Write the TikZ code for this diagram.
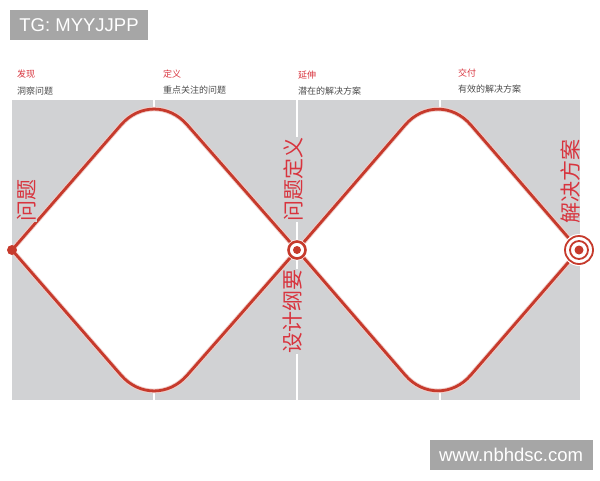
\documentclass[tikz,border=0pt]{standalone}
\usepackage{fontspec}
\setmainfont{Liberation Sans}
\newfontfamily\cjk{Noto Sans CJK SC}
\definecolor{panelgray}{HTML}{D1D2D4}
\definecolor{linered}{HTML}{C63A2C}
\definecolor{textred}{HTML}{D8343E}
\definecolor{taggray}{HTML}{A6A6A6}

\begin{document}
\begin{tikzpicture}[x=1pt, y=-1pt,
  stage/.style={anchor=west, inner sep=0pt, text=textred, font=\cjk\fontsize{9}{9}\selectfont},
  task/.style={anchor=west, inner sep=0pt, text=black!70, font=\cjk\fontsize{9}{9}\selectfont},
  bigword/.style={rotate=90, inner sep=0.5pt, fill=panelgray, text=textred, font=\cjk\fontsize{21}{21}\selectfont},
  tagbox/.style={fill=taggray, text=white, inner sep=0pt, minimum height=30pt, font=\fontsize{18.5}{18.5}\selectfont},
  redline/.style={draw=linered, line width=2.8pt, line cap=round, line join=round, rounded corners=50pt},
  glowline/.style={draw=linered!25, line width=4.6pt, line cap=round, line join=round, rounded corners=50pt},
  whitehalf/.style={fill=white, rounded corners=50pt}]

\useasboundingbox (0, 0) rectangle (600, 480);

\coordinate (start) at (12, 250);
\coordinate (top1) at (154, 87);
\coordinate (brief) at (297, 250);
\coordinate (bot1) at (154, 413);
\coordinate (top2) at (438, 87);
\coordinate (goal) at (579, 250);
\coordinate (bot2) at (438, 413);

\fill[panelgray] (12, 100) rectangle (580, 400);

\draw[white, line width=2pt] (154, 100) -- (154, 400);

\draw[white, line width=2pt] (297, 100) -- (297, 400);

\draw[white, line width=2pt] (440, 100) -- (440, 400);

\path[whitehalf] (start) -- (top1) -- (brief);
\path[whitehalf] (start) -- (bot1) -- (brief);
\fill[white] (start) -- (154, 240) -- (brief) -- (154, 260) -- cycle;

\path[whitehalf] (brief) -- (top2) -- (goal);
\path[whitehalf] (brief) -- (bot2) -- (goal);
\fill[white] (brief) -- (438, 240) -- (goal) -- (438, 260) -- cycle;

\draw[glowline] (start) -- (top1) -- (brief);
\draw[glowline] (start) -- (bot1) -- (brief);
\draw[glowline] (brief) -- (top2) -- (goal);
\draw[glowline] (brief) -- (bot2) -- (goal);

\draw[redline] (start) -- (top1) -- (brief);
\draw[redline] (start) -- (bot1) -- (brief);

\draw[redline] (brief) -- (top2) -- (goal);
\draw[redline] (brief) -- (bot2) -- (goal);

\fill[linered] (start) circle (5pt);

\fill[white] (brief) circle (10.5pt);
\draw[linered, line width=2.6pt] (brief) circle (8.5pt);
\fill[linered] (brief) circle (4pt);

\fill[white] (goal) circle (16pt);
\draw[linered, line width=1.8pt] (goal) circle (14pt);
\draw[linered, line width=1.8pt] (goal) circle (9pt);
\fill[linered] (goal) circle (4.5pt);

\draw (27, 200) node[bigword] (problem) {问题};

\draw (293, 179) node[bigword] (define) {问题定义};

\draw (293, 311) node[bigword] (design) {设计纲要};

\draw (570, 181) node[bigword] (solution) {解决方案};

\draw (17, 74) node[stage] (discover) {发现};
\draw (17, 91) node[task] (insight) {洞察问题};

\draw (163, 74) node[stage] (defstage) {定义};
\draw (163, 90) node[task] (focus) {重点关注的问题};

\draw (298, 75) node[stage] (develop) {延伸};
\draw (298, 91) node[task] (potential) {潜在的解决方案};

\draw (458, 73) node[stage] (deliver) {交付};
\draw (458, 89) node[task] (effective) {有效的解决方案};

\draw (79, 25) node[tagbox, minimum width=138pt] (tg) {TG: MYYJJPP};

\draw (511, 455) node[tagbox, minimum width=163pt] (site) {www.nbhdsc.com};

\end{tikzpicture}
\end{document}
